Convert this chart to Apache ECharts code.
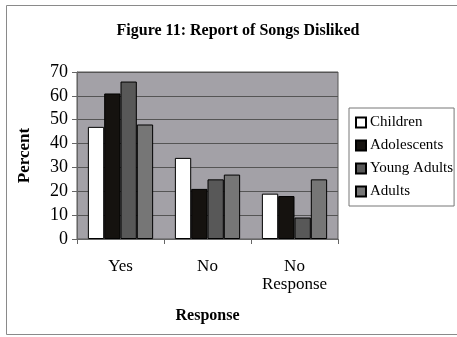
<!DOCTYPE html>
<html>
<head>
<meta charset="utf-8">
<script src="https://cdn.jsdelivr.net/npm/echarts@6/dist/echarts.min.js"></script>
<style>
  html, body { margin: 0; padding: 0; background: #ffffff; }
  #chart { width: 457px; height: 337px; }
</style>
</head>
<body>
<div id="chart"></div>
<script>
// Survey responses: share of each age group reporting songs they dislike
const categories = ['Yes', 'No', 'No\nResponse'];
const groups = ['Children', 'Adolescents', 'Young Adults', 'Adults'];
const children = [47, 34, 19];
const adolescents = [61, 21, 18];
const youngAdults = [66, 25, 9];
const adults = [48, 27, 25];
const yTicks = [0, 10, 20, 30, 40, 50, 60, 70];

const seriesValues = [children, adolescents, youngAdults, adults];
const fills = ['#ffffff', '#15120f', '#585858', '#767676'];
const font = '"Liberation Serif", "Times New Roman", serif';

const chart = echarts.init(document.getElementById('chart'), null, { renderer: 'canvas' });

chart.setOption({
  animation: false,
  backgroundColor: '#ffffff',
  title: {
    text: 'Figure 11: Report of Songs Disliked',
    left: 233, top: 18, textAlign: 'center',
    textStyle: { fontFamily: font, fontSize: 16, fontWeight: 'bold', color: '#000' }
  },
  graphic: [{
    type: 'rect', shape: { x: 6.5, y: 5.5, width: 470, height: 329 },
    style: { fill: 'none', stroke: '#8a8a8a', lineWidth: 1 }, silent: true, z: -1
  }],
  legend: {
    data: groups,
    orient: 'vertical',
    left: 349, top: 108,
    padding: [7, 1, 7, 6],
    itemGap: 8,
    itemWidth: 10, itemHeight: 10,
    icon: 'rect',
    backgroundColor: '#ffffff',
    borderColor: '#777', borderWidth: 1,
    textStyle: { fontFamily: font, fontSize: 15, color: '#000', padding: [0, 0, 0, -1] }
  },
  grid: {
    left: 77, right: 119, top: 72, bottom: 98,
    show: true, backgroundColor: '#a3a1a7', borderColor: '#555', borderWidth: 1
  },
  xAxis: {
    type: 'category',
    data: categories,
    name: 'Response',
    nameLocation: 'middle',
    nameGap: 69,
    nameTextStyle: { fontFamily: font, fontSize: 16, fontWeight: 'bold', color: '#000' },
    axisLine: { lineStyle: { color: '#666' } },
    axisTick: { show: true, alignWithLabel: false, length: 5, lineStyle: { color: '#666' } },
    axisLabel: { fontFamily: font, fontSize: 17, color: '#000', margin: 19, lineHeight: 18, interval: 0 }
  },
  yAxis: {
    type: 'value',
    min: yTicks[0], max: yTicks[yTicks.length - 1], interval: 10,
    name: 'Percent',
    nameLocation: 'middle',
    nameRotate: 90,
    nameGap: 44,
    nameTextStyle: { fontFamily: font, fontSize: 17, fontWeight: 'bold', color: '#000' },
    axisLine: { show: true, lineStyle: { color: '#666' } },
    axisTick: { show: true, length: 5, lineStyle: { color: '#666' } },
    axisLabel: { fontFamily: font, fontSize: 18, color: '#000', margin: 9 },
    splitLine: { show: true, lineStyle: { color: '#555', width: 1 } }
  },
  series: groups.map((name, i) => ({
    name: name,
    type: 'bar',
    data: seriesValues[i],
    barGap: '0%',
    barCategoryGap: '25%',
    itemStyle: { color: fills[i], borderColor: '#000', borderWidth: 1 }
  }))
});
</script>
</body>
</html>
